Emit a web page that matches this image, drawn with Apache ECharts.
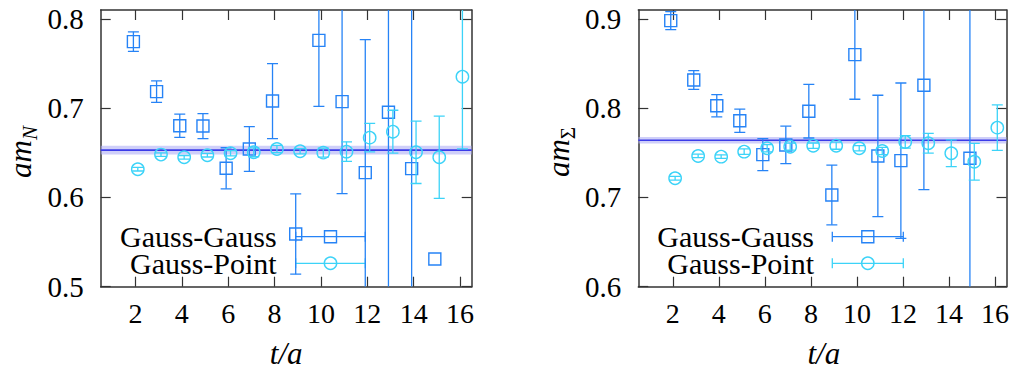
<!DOCTYPE html>
<html>
<head>
<meta charset="utf-8">
<script src="https://cdn.jsdelivr.net/npm/echarts@6/dist/echarts.min.js"></script>
<style>
  html, body { margin: 0; padding: 0; background: #fff; }
  #chart { width: 1012px; height: 369px; }
  #overlay { position: absolute; left: 0; top: 0; width: 1px; height: 1px; pointer-events: none; }
</style>
</head>
<body>
<div id="chart"></div>
<div id="overlay"></div>
<script>
// Effective masses vs. Euclidean time t/a for two smearing setups.
const tN = [2, 3, 4, 5, 6, 7, 8, 9, 10, 11, 12, 13, 14, 15];
const nGaussGauss    = [0.7746, 0.7185, 0.6804, 0.680, 0.6327, 0.6543, 0.708, 0.559, 0.776, 0.7073, 0.6278, 0.6954, 0.6323, 0.531];
const nGaussGaussErr = [0.011, 0.012, 0.013, 0.014, 0.023, 0.025, 0.042, 0.045, 0.074, 0.103, 0.149, 0.40, 0.40, 0];

const tNp = [2, 3, 4, 5, 6, 7, 8, 9, 10, 11, 12, 13, 14, 15, 16];
const nGaussPoint    = [0.6316, 0.648, 0.645, 0.6473, 0.6495, 0.6506, 0.6543, 0.6517, 0.6502, 0.6513, 0.667, 0.6737, 0.6506, 0.645, 0.7353];
const nGaussPointErr = [0.002, 0.002, 0.002, 0.002, 0.003, 0.005, 0.004, 0.003, 0.005, 0.011, 0.016, 0.024, 0.035, 0.046, 0.081];

const tS = [2, 3, 4, 5, 6, 7, 8, 9, 10, 11, 12, 13, 15];
const sGaussGauss    = [0.8981, 0.8315, 0.8028, 0.786, 0.748, 0.7588, 0.7966, 0.7028, 0.86, 0.7465, 0.7412, 0.8257, 0.7439];
const sGaussGaussErr = [0.010, 0.0105, 0.0125, 0.013, 0.018, 0.021, 0.030, 0.0335, 0.05, 0.068, 0.087, 0.117, 0.30];

const tSp = [2, 3, 4, 5, 6, 7, 8, 9, 10, 11, 12, 13, 14, 15, 16];
const sGaussPoint    = [0.7215, 0.7465, 0.7457, 0.7513, 0.7551, 0.7569, 0.758, 0.758, 0.7551, 0.752, 0.7622, 0.7607, 0.7495, 0.740, 0.7782];
const sGaussPointErr = [0.002, 0.002, 0.002, 0.003, 0.004, 0.004, 0.003, 0.004, 0.003, 0.004, 0.007, 0.011, 0.015, 0.0205, 0.0255];

// Plateau fits: [value, error]
const fitN = [0.653, 0.0048];
const fitS = [0.764, 0.0037];

const xTicks = [2, 4, 6, 8, 10, 12, 14, 16];
const yTicksN = [0.5, 0.6, 0.7, 0.8];
const yTicksS = [0.6, 0.7, 0.8, 0.9];
const legendNames = ['Gauss-Gauss', 'Gauss-Point'];

const COL_GG = '#2683f6';
const COL_GP = '#3cd3f8';
const AXIS_COL = '#333333';
const FONT = 'Liberation Serif';

const grids = [
  { left: 100.7, top: 10, width: 371, height: 276.7 },
  { left: 638.3, top: 10, width: 371, height: 276.7 }
];

function xAxes(g) {
  const base = {
    type: 'value', gridIndex: g, min: 0.5, max: 16.5,
    splitLine: { show: false },
    axisLine: { show: true, onZero: false, lineStyle: { color: AXIS_COL, width: 1.5 } },
    axisTick: { show: true, inside: true, length: 10, customValues: xTicks, lineStyle: { color: AXIS_COL, width: 1.2 } }
  };
  return [
    Object.assign({}, base, { position: 'bottom',
      axisLabel: { show: true, customValues: xTicks, margin: 13, color: '#000', fontFamily: FONT, fontSize: 28 } }),
    Object.assign({}, base, { position: 'top', axisLabel: { show: false } })
  ];
}

function yAxes(g, min, max, ticks) {
  const base = {
    type: 'value', gridIndex: g, min: min, max: max,
    splitLine: { show: false },
    axisLine: { show: true, onZero: false, lineStyle: { color: AXIS_COL, width: 1.5 } },
    axisTick: { show: true, inside: true, length: 10, customValues: ticks, lineStyle: { color: AXIS_COL, width: 1.2 } }
  };
  return [
    Object.assign({}, base, { position: 'left',
      axisLabel: { show: true, customValues: ticks, margin: 17, color: '#000', fontFamily: FONT, fontSize: 29,
        formatter: v => v.toFixed(1) } }),
    Object.assign({}, base, { position: 'right', axisLabel: { show: false } })
  ];
}

// Error-bar points: vertical bar with caps plus a hollow symbol.
function errorSeries(name, axisIdx, ts, vals, errs, dx, shape, color) {
  const data = ts.map((t, i) => [t + dx, vals[i], errs[i]]);
  return {
    type: 'custom', name: name, xAxisIndex: axisIdx, yAxisIndex: axisIdx,
    clip: true, z: shape === 'rect' ? 3 : 4, data: data,
    renderItem: function (params, api) {
      const x = api.value(0), y = api.value(1), e = api.value(2);
      const p = api.coord([x, y]);
      const top = api.coord([x, y + e]);
      const bot = api.coord([x, y - e]);
      const cs = params.coordSys;
      const yMin = cs.y, yMax = cs.y + cs.height;
      const children = [];
      const cap = 5.5;
      const ls = { stroke: color, lineWidth: 1.3, fill: null };
      if (e > 0) {
        const y0 = Math.max(yMin, top[1]), y1 = Math.min(yMax, bot[1]);
        children.push({ type: 'line', shape: { x1: p[0], y1: y0, x2: p[0], y2: y1 }, style: ls });
        if (top[1] >= yMin) children.push({ type: 'line', shape: { x1: p[0] - cap, y1: top[1], x2: p[0] + cap, y2: top[1] }, style: ls });
        if (bot[1] <= yMax) children.push({ type: 'line', shape: { x1: p[0] - cap, y1: bot[1], x2: p[0] + cap, y2: bot[1] }, style: ls });
      }
      if (p[1] >= yMin && p[1] <= yMax) {
        if (shape === 'rect') {
          children.push({ type: 'rect', shape: { x: p[0] - 6, y: p[1] - 6, width: 12, height: 12 },
            style: { stroke: color, lineWidth: 1.4, fill: null } });
        } else {
          children.push({ type: 'circle', shape: { cx: p[0], cy: p[1], r: 6.2 },
            style: { stroke: color, lineWidth: 1.4, fill: null } });
        }
      }
      return { type: 'group', children: children };
    }
  };
}

// Plateau band and central line across the full panel width.
function fitSeries(axisIdx, fit) {
  return {
    type: 'custom', xAxisIndex: axisIdx, yAxisIndex: axisIdx, silent: true, z: 1,
    data: [[fit[0], fit[1]]],
    renderItem: function (params, api) {
      const v = api.value(0), e = api.value(1);
      const cs = params.coordSys;
      const yc = api.coord([1, v])[1];
      const yt = api.coord([1, v + e])[1];
      const yb = api.coord([1, v - e])[1];
      return { type: 'group', children: [
        { type: 'rect', shape: { x: cs.x, y: yt, width: cs.width, height: yb - yt },
          style: { fill: 'rgba(175,175,245,0.6)' } },
        { type: 'line', shape: { x1: cs.x, y1: yc, x2: cs.x + cs.width, y2: yc },
          style: { stroke: '#3b3be8', lineWidth: 1.6 } }
      ] };
    }
  };
}

// Key: name on the left, sample bar with end caps and symbol on the right.
function legendGraphic(textRight, lineX0, lineX1, yRows) {
  const els = [];
  const styles = [[COL_GG, 'rect'], [COL_GP, 'circle']];
  legendNames.forEach((nm, i) => {
    const y = yRows[i];
    const col = styles[i][0];
    els.push({ type: 'text', x: textRight, y: y,
      style: { text: nm, fontFamily: FONT, fontSize: 30, fill: '#000', align: 'right', verticalAlign: 'middle' } });
    const ls = { stroke: col, lineWidth: 1.3 };
    els.push({ type: 'line', shape: { x1: lineX0, y1: y, x2: lineX1, y2: y }, style: ls });
    els.push({ type: 'line', shape: { x1: lineX0, y1: y - 5, x2: lineX0, y2: y + 5 }, style: ls });
    els.push({ type: 'line', shape: { x1: lineX1, y1: y - 5, x2: lineX1, y2: y + 5 }, style: ls });
    const cx = (lineX0 + lineX1) / 2;
    if (styles[i][1] === 'rect') {
      els.push({ type: 'rect', shape: { x: cx - 6, y: y - 6, width: 12, height: 12 }, style: { stroke: col, lineWidth: 1.4, fill: null } });
    } else {
      els.push({ type: 'circle', shape: { cx: cx, cy: y, r: 6.2 }, style: { stroke: col, lineWidth: 1.4, fill: null } });
    }
  });
  return els;
}

function axisTitles() {
  const it = { fontFamily: FONT, fontStyle: 'italic', fontSize: 31, fill: '#000' };
  const els = [];
  [286.2, 823.8].forEach(cx => {
    els.push({ type: 'text', x: cx, y: 353, style: Object.assign({ text: 't/a', align: 'center', verticalAlign: 'middle' }, it) });
  });
  const mk = (x, sub, subItalic) => ({
    type: 'text', x: x, y: 152, rotation: Math.PI / 2,
    style: {
      text: '{m|am}{s|' + sub + '}', align: 'center', verticalAlign: 'middle',
      rich: {
        m: { fontFamily: FONT, fontStyle: 'italic', fontSize: 31, lineHeight: 40, verticalAlign: 'middle', fill: '#000' },
        s: { fontFamily: FONT, fontStyle: subItalic ? 'italic' : 'normal', fontSize: 21, lineHeight: 40, verticalAlign: 'bottom', fill: '#000' }
      }
    }
  });
  els.push(mk(20, 'N', true));
  els.push(mk(558, 'Σ', false));
  return els;
}

const chart = echarts.init(document.getElementById('chart'), null, { renderer: 'svg' });
chart.setOption({
  animation: false,
  backgroundColor: '#ffffff',
  grid: grids,
  xAxis: [].concat(xAxes(0), xAxes(1)),
  yAxis: [].concat(yAxes(0, 0.5, 0.81, yTicksN), yAxes(1, 0.6, 0.91, yTicksS)),
  series: [
    fitSeries(0, fitN),
    errorSeries('Gauss-Gauss', 0, tN, nGaussGauss, nGaussGaussErr, -0.09, 'rect', COL_GG),
    errorSeries('Gauss-Point', 0, tNp, nGaussPoint, nGaussPointErr, 0.1, 'circle', COL_GP),
    fitSeries(2, fitS),
    errorSeries('Gauss-Gauss', 2, tS, sGaussGauss, sGaussGaussErr, -0.09, 'rect', COL_GG),
    errorSeries('Gauss-Point', 2, tSp, sGaussPoint, sGaussPointErr, 0.1, 'circle', COL_GP)
  ],
  graphic: [].concat(
    legendGraphic(276.7, 295.7, 365.3, [236.7, 263.3]),
    legendGraphic(814, 832.3, 903.3, [236.7, 263.3]),
    axisTitles()
  )
});
</script>
</body>
</html>
